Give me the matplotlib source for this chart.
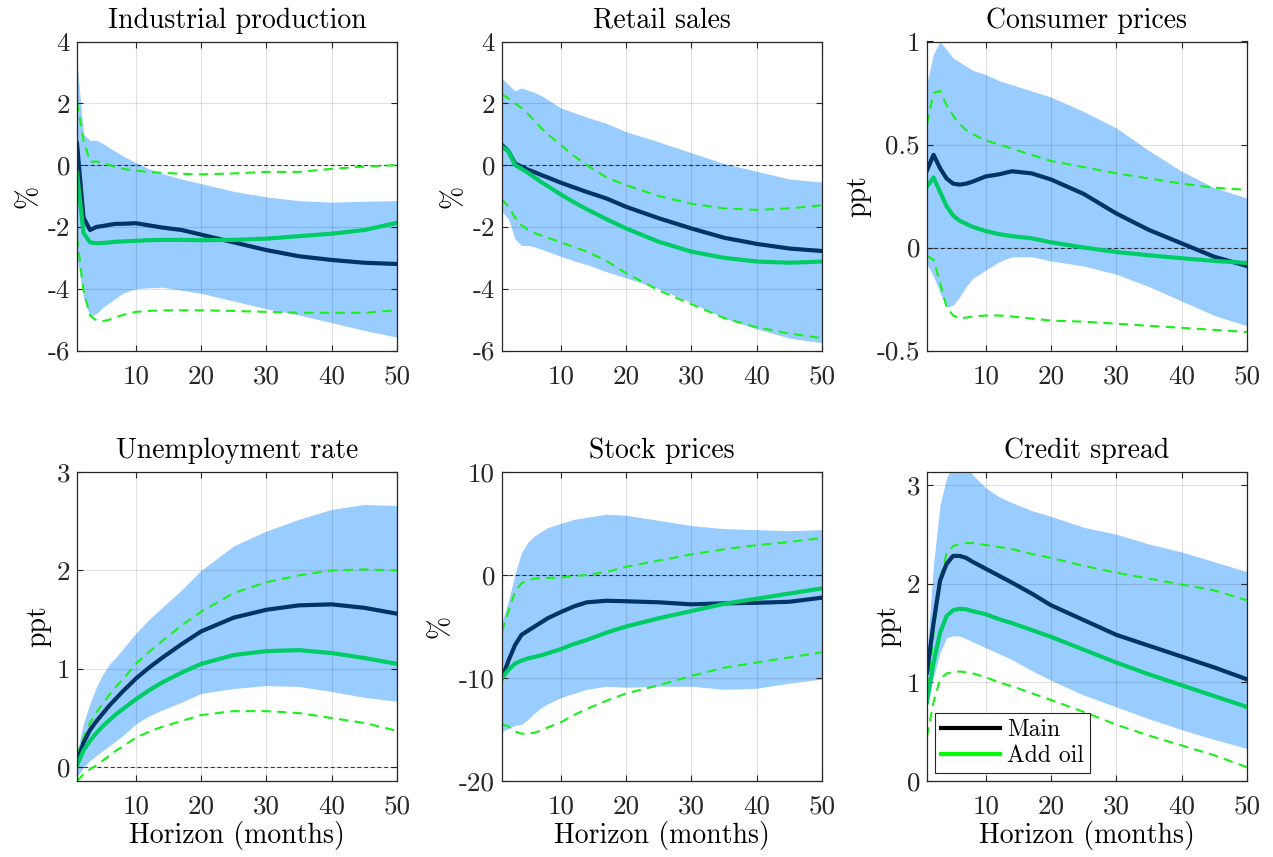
import matplotlib
matplotlib.use("Agg")
import matplotlib as mpl
import matplotlib.pyplot as plt
from matplotlib.lines import Line2D

mpl.rcParams['font.family'] = 'cmr10'
mpl.rcParams['mathtext.fontset'] = 'cm'
mpl.rcParams['axes.unicode_minus'] = False
mpl.rcParams['axes.formatter.use_mathtext'] = True

horizon = [1, 2, 3, 4, 5, 6, 7, 8, 10, 12, 14, 17, 20, 25, 30, 35, 40, 45, 50]

titles = ["Industrial production", "Retail sales", "Consumer prices",
          "Unemployment rate", "Stock prices", "Credit spread"]
ylabels = ["%", "%", "ppt", "ppt", "%", "ppt"]

# ---- Industrial production ----
ip_main = [0.7, -1.7, -2.1, -2.0, -1.97, -1.93, -1.9, -1.9, -1.88, -1.95, -2.02, -2.1, -2.25, -2.5, -2.75, -2.95, -3.07, -3.16, -3.2]
ip_oil = [-0.25, -2.2, -2.5, -2.53, -2.52, -2.5, -2.48, -2.47, -2.45, -2.43, -2.42, -2.42, -2.43, -2.42, -2.38, -2.3, -2.22, -2.1, -1.87]
ip_band_hi = [3.3, 1.0, 0.8, 0.8, 0.7, 0.55, 0.43, 0.3, 0.08, -0.12, -0.27, -0.45, -0.6, -0.85, -1.03, -1.15, -1.2, -1.17, -1.15]
ip_band_lo = [-3.0, -4.3, -4.9, -4.8, -4.6, -4.45, -4.3, -4.15, -4.0, -3.97, -3.95, -4.05, -4.15, -4.4, -4.65, -4.85, -5.1, -5.35, -5.57]
ip_oil_hi = [2.05, 0.8, 0.1, 0.12, 0.05, 0.0, -0.07, -0.12, -0.18, -0.22, -0.25, -0.28, -0.3, -0.27, -0.22, -0.22, -0.12, -0.05, 0.0]
ip_oil_lo = [-2.33, -4.06, -4.87, -5.03, -5.05, -5.0, -4.92, -4.85, -4.75, -4.72, -4.7, -4.7, -4.7, -4.72, -4.75, -4.78, -4.78, -4.78, -4.7]

# ---- Retail sales ----
rs_main = [0.65, 0.45, 0.05, -0.05, -0.15, -0.23, -0.32, -0.4, -0.57, -0.72, -0.87, -1.08, -1.35, -1.72, -2.05, -2.35, -2.55, -2.7, -2.78]
rs_oil = [0.6, 0.45, 0.0, -0.12, -0.25, -0.4, -0.55, -0.68, -0.95, -1.2, -1.43, -1.75, -2.05, -2.48, -2.8, -3.0, -3.12, -3.16, -3.12]
rs_band_hi = [2.8, 2.6, 2.4, 2.5, 2.42, 2.35, 2.25, 2.12, 1.85, 1.7, 1.55, 1.35, 1.08, 0.75, 0.4, 0.05, -0.2, -0.45, -0.55]
rs_band_lo = [-1.5, -1.75, -2.4, -2.6, -2.6, -2.65, -2.72, -2.8, -2.95, -3.1, -3.22, -3.45, -3.65, -4.0, -4.45, -4.95, -5.3, -5.6, -5.75]
rs_oil_hi = [2.3, 2.15, 2.0, 1.85, 1.65, 1.42, 1.2, 1.0, 0.65, 0.3, 0.0, -0.4, -0.65, -1.0, -1.25, -1.4, -1.45, -1.4, -1.3]
rs_oil_lo = [-1.1, -1.35, -1.7, -1.95, -2.1, -2.2, -2.28, -2.35, -2.5, -2.65, -2.8, -3.1, -3.5, -4.05, -4.5, -4.95, -5.25, -5.45, -5.6]

# ---- Consumer prices ----
cp_main = [0.375, 0.45, 0.385, 0.335, 0.31, 0.305, 0.31, 0.32, 0.345, 0.355, 0.37, 0.36, 0.33, 0.26, 0.165, 0.085, 0.02, -0.045, -0.09]
cp_oil = [0.295, 0.34, 0.27, 0.2, 0.155, 0.13, 0.115, 0.1, 0.08, 0.065, 0.055, 0.045, 0.025, 0.0, -0.022, -0.038, -0.052, -0.065, -0.075]
cp_band_hi = [0.8, 0.94, 1.0, 0.96, 0.92, 0.9, 0.88, 0.86, 0.84, 0.81, 0.79, 0.76, 0.73, 0.66, 0.58, 0.47, 0.37, 0.29, 0.24]
cp_band_lo = [-0.08, -0.14, -0.22, -0.29, -0.28, -0.24, -0.19, -0.15, -0.11, -0.07, -0.045, -0.045, -0.065, -0.09, -0.13, -0.19, -0.26, -0.33, -0.38]
cp_oil_hi = [0.6, 0.75, 0.76, 0.69, 0.64, 0.6, 0.57, 0.55, 0.52, 0.5, 0.48, 0.45, 0.42, 0.39, 0.36, 0.335, 0.31, 0.29, 0.28]
cp_oil_lo = [-0.04, -0.06, -0.17, -0.29, -0.33, -0.345, -0.34, -0.335, -0.33, -0.33, -0.335, -0.345, -0.355, -0.36, -0.37, -0.38, -0.39, -0.4, -0.41]

# ---- Unemployment rate ----
ur_main = [0.05, 0.25, 0.38, 0.47, 0.55, 0.63, 0.7, 0.77, 0.9, 1.01, 1.11, 1.25, 1.38, 1.52, 1.6, 1.645, 1.655, 1.62, 1.56]
ur_oil = [0.02, 0.17, 0.27, 0.35, 0.42, 0.48, 0.54, 0.59, 0.69, 0.78, 0.86, 0.96, 1.05, 1.14, 1.18, 1.19, 1.16, 1.11, 1.05]
ur_band_hi = [0.15, 0.45, 0.65, 0.82, 0.95, 1.05, 1.12, 1.2, 1.36, 1.5, 1.62, 1.8, 2.0, 2.25, 2.4, 2.52, 2.62, 2.67, 2.66]
ur_band_lo = [-0.1, 0.0, 0.07, 0.12, 0.17, 0.22, 0.27, 0.32, 0.44, 0.52, 0.58, 0.66, 0.75, 0.8, 0.83, 0.82, 0.77, 0.71, 0.67]
ur_oil_hi = [0.12, 0.3, 0.45, 0.56, 0.65, 0.74, 0.82, 0.89, 1.05, 1.17, 1.28, 1.44, 1.58, 1.77, 1.88, 1.95, 2.0, 2.01, 2.0]
ur_oil_lo = [-0.14, -0.07, -0.02, 0.02, 0.07, 0.12, 0.17, 0.21, 0.3, 0.36, 0.41, 0.47, 0.53, 0.57, 0.57, 0.55, 0.5, 0.45, 0.37]

# ---- Stock prices ----
sp_main = [-10.0, -8.3, -6.8, -5.8, -5.4, -5.0, -4.6, -4.2, -3.6, -3.05, -2.65, -2.5, -2.55, -2.65, -2.85, -2.75, -2.7, -2.6, -2.2]
sp_oil = [-10.0, -9.2, -8.6, -8.3, -8.1, -7.95, -7.8, -7.6, -7.2, -6.7, -6.3, -5.6, -5.0, -4.2, -3.5, -2.8, -2.3, -1.8, -1.3]
sp_band_hi = [-4.5, -2.5, 0.1, 2.2, 3.2, 3.8, 4.2, 4.6, 5.0, 5.4, 5.6, 5.9, 5.8, 5.3, 4.8, 4.5, 4.4, 4.3, 4.4]
sp_band_lo = [-15.2, -14.9, -14.6, -14.5, -14.0, -13.4, -12.9, -12.5, -11.9, -11.5, -11.1, -10.8, -10.9, -10.8, -10.8, -11.1, -11.0, -10.5, -10.1]
sp_oil_hi = [-5.5, -3.5, -1.6, -0.8, -0.5, -0.35, -0.3, -0.28, -0.25, -0.1, 0.0, 0.3, 0.8, 1.4, 2.0, 2.5, 2.9, 3.2, 3.6]
sp_oil_lo = [-14.5, -14.7, -15.2, -15.4, -15.4, -15.3, -15.1, -14.8, -14.3, -13.6, -13.0, -12.2, -11.5, -10.7, -9.8, -9.0, -8.5, -8.0, -7.5]

# ---- Credit spread ----
cs_main = [1.1, 1.6, 2.03, 2.2, 2.28, 2.28, 2.26, 2.22, 2.15, 2.08, 2.01, 1.9, 1.78, 1.63, 1.48, 1.37, 1.26, 1.15, 1.03]
cs_oil = [0.8, 1.2, 1.5, 1.67, 1.73, 1.745, 1.74, 1.72, 1.69, 1.64, 1.6, 1.53, 1.46, 1.33, 1.2, 1.08, 0.97, 0.86, 0.75]
cs_band_hi = [1.3, 2.2, 2.8, 3.07, 3.2, 3.25, 3.2, 3.1, 2.97, 2.88, 2.82, 2.74, 2.68, 2.57, 2.5, 2.4, 2.32, 2.22, 2.12]
cs_band_lo = [0.84, 1.05, 1.3, 1.45, 1.47, 1.47, 1.44, 1.41, 1.35, 1.29, 1.23, 1.12, 1.02, 0.87, 0.75, 0.63, 0.52, 0.42, 0.33]
cs_oil_hi = [0.8, 1.5, 2.05, 2.3, 2.38, 2.4, 2.41, 2.41, 2.39, 2.37, 2.35, 2.3, 2.26, 2.18, 2.11, 2.05, 1.99, 1.93, 1.83]
cs_oil_lo = [0.45, 0.8, 1.03, 1.09, 1.1, 1.11, 1.1, 1.09, 1.05, 1.0, 0.96, 0.89, 0.82, 0.7, 0.57, 0.46, 0.36, 0.26, 0.14]

ylims = [(-6, 4), (-6, 4), (-0.5, 1), (-0.14, 3), (-20, 10), (0, 3.13)]
yticks = [[-6, -4, -2, 0, 2, 4], [-6, -4, -2, 0, 2, 4], [-0.5, 0, 0.5, 1],
          [0, 1, 2, 3], [-20, -10, 0, 10], [0, 1, 2, 3]]
xticks = [10, 20, 30, 40, 50]

panels = [
    (ip_main, ip_oil, ip_band_lo, ip_band_hi, ip_oil_lo, ip_oil_hi),
    (rs_main, rs_oil, rs_band_lo, rs_band_hi, rs_oil_lo, rs_oil_hi),
    (cp_main, cp_oil, cp_band_lo, cp_band_hi, cp_oil_lo, cp_oil_hi),
    (ur_main, ur_oil, ur_band_lo, ur_band_hi, ur_oil_lo, ur_oil_hi),
    (sp_main, sp_oil, sp_band_lo, sp_band_hi, sp_oil_lo, sp_oil_hi),
    (cs_main, cs_oil, cs_band_lo, cs_band_hi, cs_oil_lo, cs_oil_hi),
]

BAND = '#99CCFF'
NAVY = '#003366'
GREEN = '#00CC66'
DASH_GREEN = '#1AF01A'
DARK = '#262626'

W, H = 1273, 857
fig = plt.figure(figsize=(W / 100, H / 100), dpi=100)

lefts = [77, 502, 927]
tops = [41.5, 472]
aw, ah = 320, 309

TICK_FS = 19.5
LAB_FS = 20

def fmt(v):
    return '%g' % v

for i, (title, ylab, data) in enumerate(zip(titles, ylabels, panels)):
    r, c = divmod(i, 3)
    x0 = lefts[c] / W
    y0 = 1 - (tops[r] + ah) / H
    ax = fig.add_axes([x0, y0, aw / W, ah / H])
    main, oil, blo, bhi, olo, ohi = data
    ax.fill_between(horizon, blo, bhi, color=BAND, lw=0, zorder=1)
    ax.axhline(0, color='k', ls=(0, (3.5, 2.5)), lw=0.8, alpha=0.75, zorder=2)
    ax.plot(horizon, ohi, color=DASH_GREEN, lw=1.5, ls=(0, (4.5, 3)), zorder=3)
    ax.plot(horizon, olo, color=DASH_GREEN, lw=1.5, ls=(0, (4.5, 3)), zorder=3)
    ax.plot(horizon, main, color=NAVY, lw=3, zorder=4, solid_joinstyle='round')
    ax.plot(horizon, oil, color=GREEN, lw=3, zorder=4, solid_joinstyle='round')
    ax.set_xlim(1, 50)
    ax.set_ylim(*ylims[i])
    ax.set_xticks(xticks, [fmt(t) for t in xticks])
    ax.set_yticks(yticks[i], [fmt(t) for t in yticks[i]])
    ax.grid(True, color='k', alpha=0.12, lw=0.8, zorder=5)
    ax.set_axisbelow(False)
    ax.tick_params(direction='in', top=True, right=True, length=4, width=0.8,
                   colors=DARK, labelsize=TICK_FS, labelcolor=DARK)
    ax.tick_params(axis='x', pad=10)
    ax.tick_params(axis='y', pad=5)
    for sp in ax.spines.values():
        sp.set_color(DARK)
        sp.set_linewidth(0.9)
        sp.set_zorder(6)
    ax.set_title(title, fontsize=LAB_FS, pad=10)
    ax.set_ylabel(ylab, fontsize=LAB_FS, labelpad=4)
    if r == 1:
        ax.set_xlabel('Horizon (months)', fontsize=LAB_FS, labelpad=2)
    if i == 5:
        handles = [Line2D([], [], color='k', lw=3),
                   Line2D([], [], color='#00FF00', lw=3)]
        leg = ax.legend(handles, ['Main', 'Add oil'], loc='lower left',
                        fontsize=17, fancybox=False, framealpha=1,
                        edgecolor=DARK, handlelength=2.5, borderaxespad=0.35,
                        handletextpad=0.3, borderpad=0.25, labelspacing=0.15)
        leg.get_frame().set_linewidth(0.8)
        leg.set_zorder(10)

fig.savefig('out.png', dpi=100)
